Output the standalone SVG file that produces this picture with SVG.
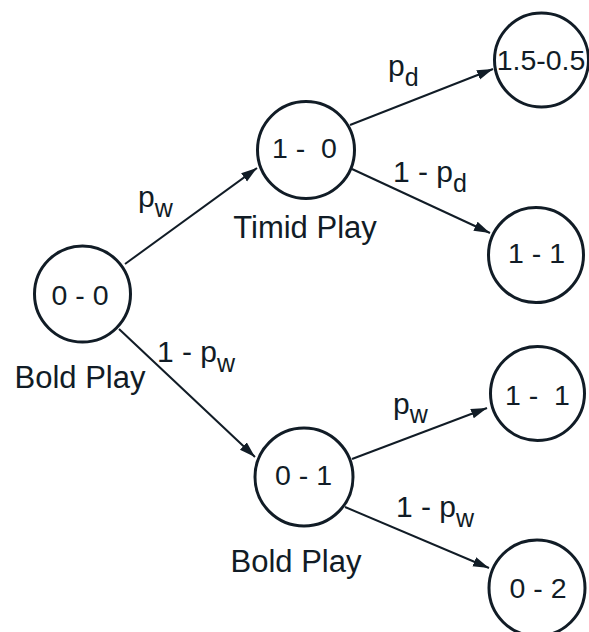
<svg xmlns="http://www.w3.org/2000/svg" width="589" height="632" viewBox="0 0 589 632">
<style>
  text { font-family: "Liberation Sans", Arial, Helvetica, sans-serif; fill: #111c26; }
  .node circle { fill: #ffffff; stroke: #111c26; stroke-width: 3; }
  .node text { font-size: 28.5px; text-anchor: middle; }
  .lbl { font-size: 30px; }
  .sub { font-size: 25px; }
  .play { font-size: 31px; text-anchor: middle; }
  .edge { stroke: #111c26; stroke-width: 2; fill: none; marker-end: url(#arrow); }
</style>
<defs>
  <marker id="arrow" markerUnits="userSpaceOnUse" markerWidth="17" markerHeight="11" refX="16" refY="5" orient="auto">
    <path d="M0,0 L16,5 L0,10 z" fill="#111c26"/>
  </marker>
</defs>
<rect width="589" height="632" fill="#ffffff"/>

<g id="connectors">
  <line class="edge" x1="125" y1="264" x2="257" y2="168"/>
  <line class="edge" x1="119" y1="329" x2="255" y2="457"/>
  <line class="edge" x1="350" y1="125" x2="493" y2="69"/>
  <line class="edge" x1="352" y1="169" x2="490" y2="233"/>
  <line class="edge" x1="352" y1="459" x2="487" y2="408"/>
  <line class="edge" x1="345" y1="507" x2="489" y2="568"/>
</g>

<g id="edge-labels">
  <text class="lbl" x="138" y="207">p<tspan class="sub" dy="10">w</tspan></text>
  <text class="lbl" x="157" y="362">1 - p<tspan class="sub" dy="10">w</tspan></text>
  <text class="lbl" x="388" y="76">p<tspan class="sub" dy="10">d</tspan></text>
  <text class="lbl" x="393" y="182">1 - p<tspan class="sub" dy="10">d</tspan></text>
  <text class="lbl" x="393" y="414">p<tspan class="sub" dy="9">w</tspan></text>
  <text class="lbl" x="396" y="517">1 - p<tspan class="sub" dy="10">w</tspan></text>
</g>

<g id="node-00" class="node">
  <circle cx="82.5" cy="294" r="48"/>
  <text x="80" y="305">0 - 0</text>
</g>
<g id="node-10" class="node">
  <circle cx="306" cy="150" r="48.5"/>
  <text x="304.5" y="158" xml:space="preserve">1 -  0</text>
</g>
<g id="node-15-05" class="node">
  <circle cx="541.5" cy="60" r="47"/>
  <text x="541" y="70">1.5-0.5</text>
</g>
<g id="node-11a" class="node">
  <circle cx="536" cy="255" r="47.5"/>
  <text x="536.5" y="263">1 - 1</text>
</g>
<g id="node-01" class="node">
  <circle cx="304" cy="477" r="49"/>
  <text x="303.5" y="485">0 - 1</text>
</g>
<g id="node-11b" class="node">
  <circle cx="537.5" cy="393.5" r="47"/>
  <text x="537.5" y="405" xml:space="preserve">1 -  1</text>
</g>
<g id="node-02" class="node">
  <circle cx="537" cy="588" r="48"/>
  <text x="538" y="598">0 - 2</text>
</g>

<g id="play-labels">
  <text class="play" x="80" y="388">Bold Play</text>
  <text class="play" x="305" y="238">Timid Play</text>
  <text class="play" x="296" y="572">Bold Play</text>
</g>
</svg>
